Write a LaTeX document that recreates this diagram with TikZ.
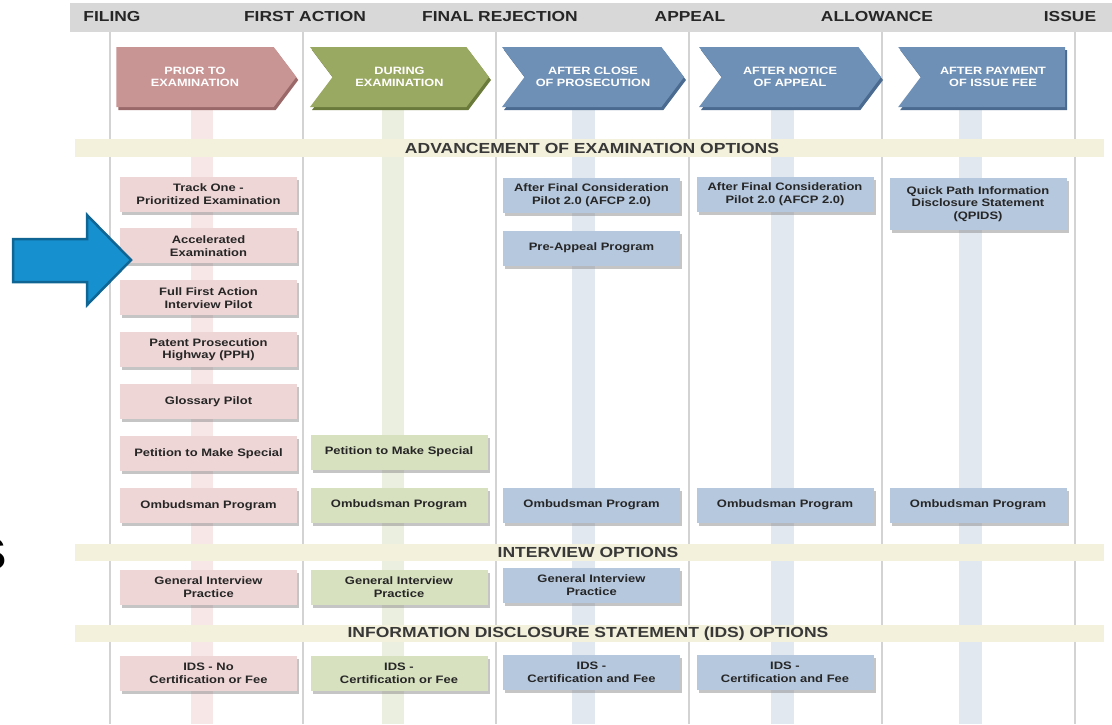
\documentclass[tikz,border=0pt]{standalone}
\usepackage{fontspec}
\setmainfont[FakeStretch=1.2]{Liberation Sans}
\usetikzlibrary{positioning,shapes.symbols,shadows}

\definecolor{headgray}{HTML}{D8D8D8}
\definecolor{rulegray}{HTML}{D3D3D3}
\definecolor{bandtan}{HTML}{F3F1DC}
\definecolor{pinkhead}{HTML}{C99494}
\definecolor{pinkdark}{HTML}{9A6868}
\definecolor{pinkbox}{HTML}{EFD6D6}
\definecolor{pinkstripe}{HTML}{F8E7E7}
\definecolor{greenhead}{HTML}{99A962}
\definecolor{greendark}{HTML}{6A7A3A}
\definecolor{greenbox}{HTML}{D7E1BF}
\definecolor{greenstripe}{HTML}{EBEFDF}
\definecolor{bluehead}{HTML}{6E90B7}
\definecolor{bluedark}{HTML}{4A6A90}
\definecolor{bluebox}{HTML}{B6C8DE}
\definecolor{bluestripe}{HTML}{E2E8F0}
\definecolor{hintblue}{HTML}{1690CE}
\definecolor{hintedge}{HTML}{0F6593}

\begin{document}
\begin{tikzpicture}[x=1pt,y=-1pt,node distance=51.9pt,on grid,
    milestone/.style={font=\fontsize{14.5}{16}\selectfont\bfseries,text=black!85},
    bandtitle/.style={font=\fontsize{14.6}{16}\selectfont\bfseries,text=black!78},
    stage/.style={signal,signal to=east,signal from=west,signal pointer angle=106,
      minimum height=60pt,inner sep=0pt,align=center,text=white,
      font=\fontsize{10.6}{11.5}\selectfont\bfseries},
    opt/.style={minimum width=177pt,minimum height=35pt,inner sep=2pt,align=center,
      font=\fontsize{10.8}{12.8}\selectfont\bfseries,text=black!85,
      drop shadow={shadow xshift=2pt,shadow yshift=-3pt,fill=black!45,opacity=.5}},
    pinkopt/.style={opt,fill=pinkbox},
    greenopt/.style={opt,fill=greenbox},
    blueopt/.style={opt,fill=bluebox}]
  \useasboundingbox (0,0) rectangle (1112,724);

  % timeline bar, stripes and rules
  \fill[headgray] (70,3) rectangle (1112,32);
  \fill[pinkstripe] (191,105) rectangle (213,724);
  \fill[greenstripe] (382,105) rectangle (404,724);
  \fill[bluestripe] (572,105) rectangle (595,724);
  \fill[bluestripe] (771,105) rectangle (794,724);
  \fill[bluestripe] (959,105) rectangle (982,724);
  \foreach \x in {110,303,496,689,882,1075}
    \draw[rulegray,line width=1.5pt] (\x,32) -- (\x,724);
  \fill[bandtan] (75,139) rectangle (1104,157);
  \fill[bandtan] (75,544) rectangle (1104,561);
  \fill[bandtan] (75,625) rectangle (1104,642);

  \node[milestone] (filing) at (112,17) {FILING};
  \node[milestone] (firstaction) at (305,17) {FIRST ACTION};
  \node[milestone] (finalrej) at (500,17) {FINAL REJECTION};
  \node[milestone] (appeal) at (690,17) {APPEAL};
  \node[milestone] (allowance) at (877,17) {ALLOWANCE};
  \node[milestone] (issue) at (1070,17) {ISSUE};

  % stages
  \node[stage,signal from=nowhere,fill=pinkhead,minimum width=180pt,
    drop shadow={shadow xshift=2pt,shadow yshift=-3pt,fill=pinkdark,opacity=1}]
    (prior) at (195,77) {PRIOR TO\\EXAMINATION};
  \node[stage,fill=greenhead,minimum width=179pt,
    drop shadow={shadow xshift=2pt,shadow yshift=-3pt,fill=greendark,opacity=1}]
    (during) at (399.5,77) {DURING\\EXAMINATION};
  \node[stage,fill=bluehead,minimum width=182pt,
    drop shadow={shadow xshift=2pt,shadow yshift=-3pt,fill=bluedark,opacity=1}]
    (closepros) at (593,77) {AFTER CLOSE\\OF PROSECUTION};
  \node[stage,fill=bluehead,minimum width=182pt,
    drop shadow={shadow xshift=2pt,shadow yshift=-3pt,fill=bluedark,opacity=1}]
    (notice) at (790,77) {AFTER NOTICE\\OF APPEAL};
  \node[stage,signal to=nowhere,fill=bluehead,minimum width=167pt,
    drop shadow={shadow xshift=2pt,shadow yshift=-3pt,fill=bluedark,opacity=1}]
    (payment) at (993,77) {AFTER PAYMENT\\OF ISSUE FEE};

  \node[bandtitle] (advtitle) at (592,148) {ADVANCEMENT OF EXAMINATION OPTIONS};
  \node[bandtitle] (inttitle) at (588,552.5) {INTERVIEW OPTIONS};
  \node[bandtitle] (idstitle) at (588,633.5) {INFORMATION DISCLOSURE STATEMENT (IDS) OPTIONS};

  % prior to examination
  \node[pinkopt] (trackone) at (208.5,194) {Track One -\\Prioritized Examination};
  \node[pinkopt] (accel) [below=of trackone] {Accelerated\\Examination};
  \node[pinkopt] (ffai) [below=of accel] {Full First Action\\Interview Pilot};
  \node[pinkopt] (pph) [below=of ffai] {Patent Prosecution\\Highway (PPH)};
  \node[pinkopt] (glossary) [below=of pph] {Glossary Pilot};
  \node[pinkopt] (pinkpetition) [below=of glossary] {Petition to Make Special};
  \node[pinkopt] (pinkombud) [below=of pinkpetition] {Ombudsman Program};
  \node[pinkopt] (pinkinterview) at (208.5,587) {General Interview\\Practice};
  \node[pinkopt] (pinkids) at (208.5,673) {IDS - No\\Certification or Fee};

  % during examination
  \node[greenopt] (greenpetition) at (399,452) {Petition to Make Special};
  \node[greenopt] (greenombud) at (399,505) {Ombudsman Program};
  \node[greenopt] (greeninterview) at (399,587) {General Interview\\Practice};
  \node[greenopt] (greenids) at (399,673) {IDS -\\Certification or Fee};

  % after close of prosecution
  \node[blueopt] (closeafcp) at (591.5,195) {After Final Consideration\\Pilot 2.0 (AFCP 2.0)};
  \node[blueopt] (preappeal) at (591.5,248) {Pre-Appeal Program};
  \node[blueopt] (closeombud) at (591.5,505) {Ombudsman Program};
  \node[blueopt] (closeinterview) at (591.5,585) {General Interview\\Practice};
  \node[blueopt] (closeids) at (591.5,672) {IDS -\\Certification and Fee};

  % after notice of appeal
  \node[blueopt] (noticeafcp) at (785,194) {After Final Consideration\\Pilot 2.0 (AFCP 2.0)};
  \node[blueopt] (noticeombud) at (785,505) {Ombudsman Program};
  \node[blueopt] (noticeids) at (785,672) {IDS -\\Certification and Fee};

  % after payment of issue fee
  \node[blueopt,minimum height=52pt] (qpids) at (978,204)
    {Quick Path Information\\Disclosure Statement\\(QPIDS)};
  \node[blueopt] (paymentombud) at (978,505) {Ombudsman Program};

  % pointer and cut-off letter
  \filldraw[fill=hintblue,draw=hintedge,line width=2.5pt,line join=miter]
    (13,239) -- (87,239) -- (87,215) -- (131,260) -- (87,305) -- (87,282)
    -- (13,282) -- cycle;
  \node[font=\fontsize{62}{62}\selectfont\bfseries,anchor=east,inner sep=0pt]
    (cutoff) at (8,554) {s};
\end{tikzpicture}
\end{document}
